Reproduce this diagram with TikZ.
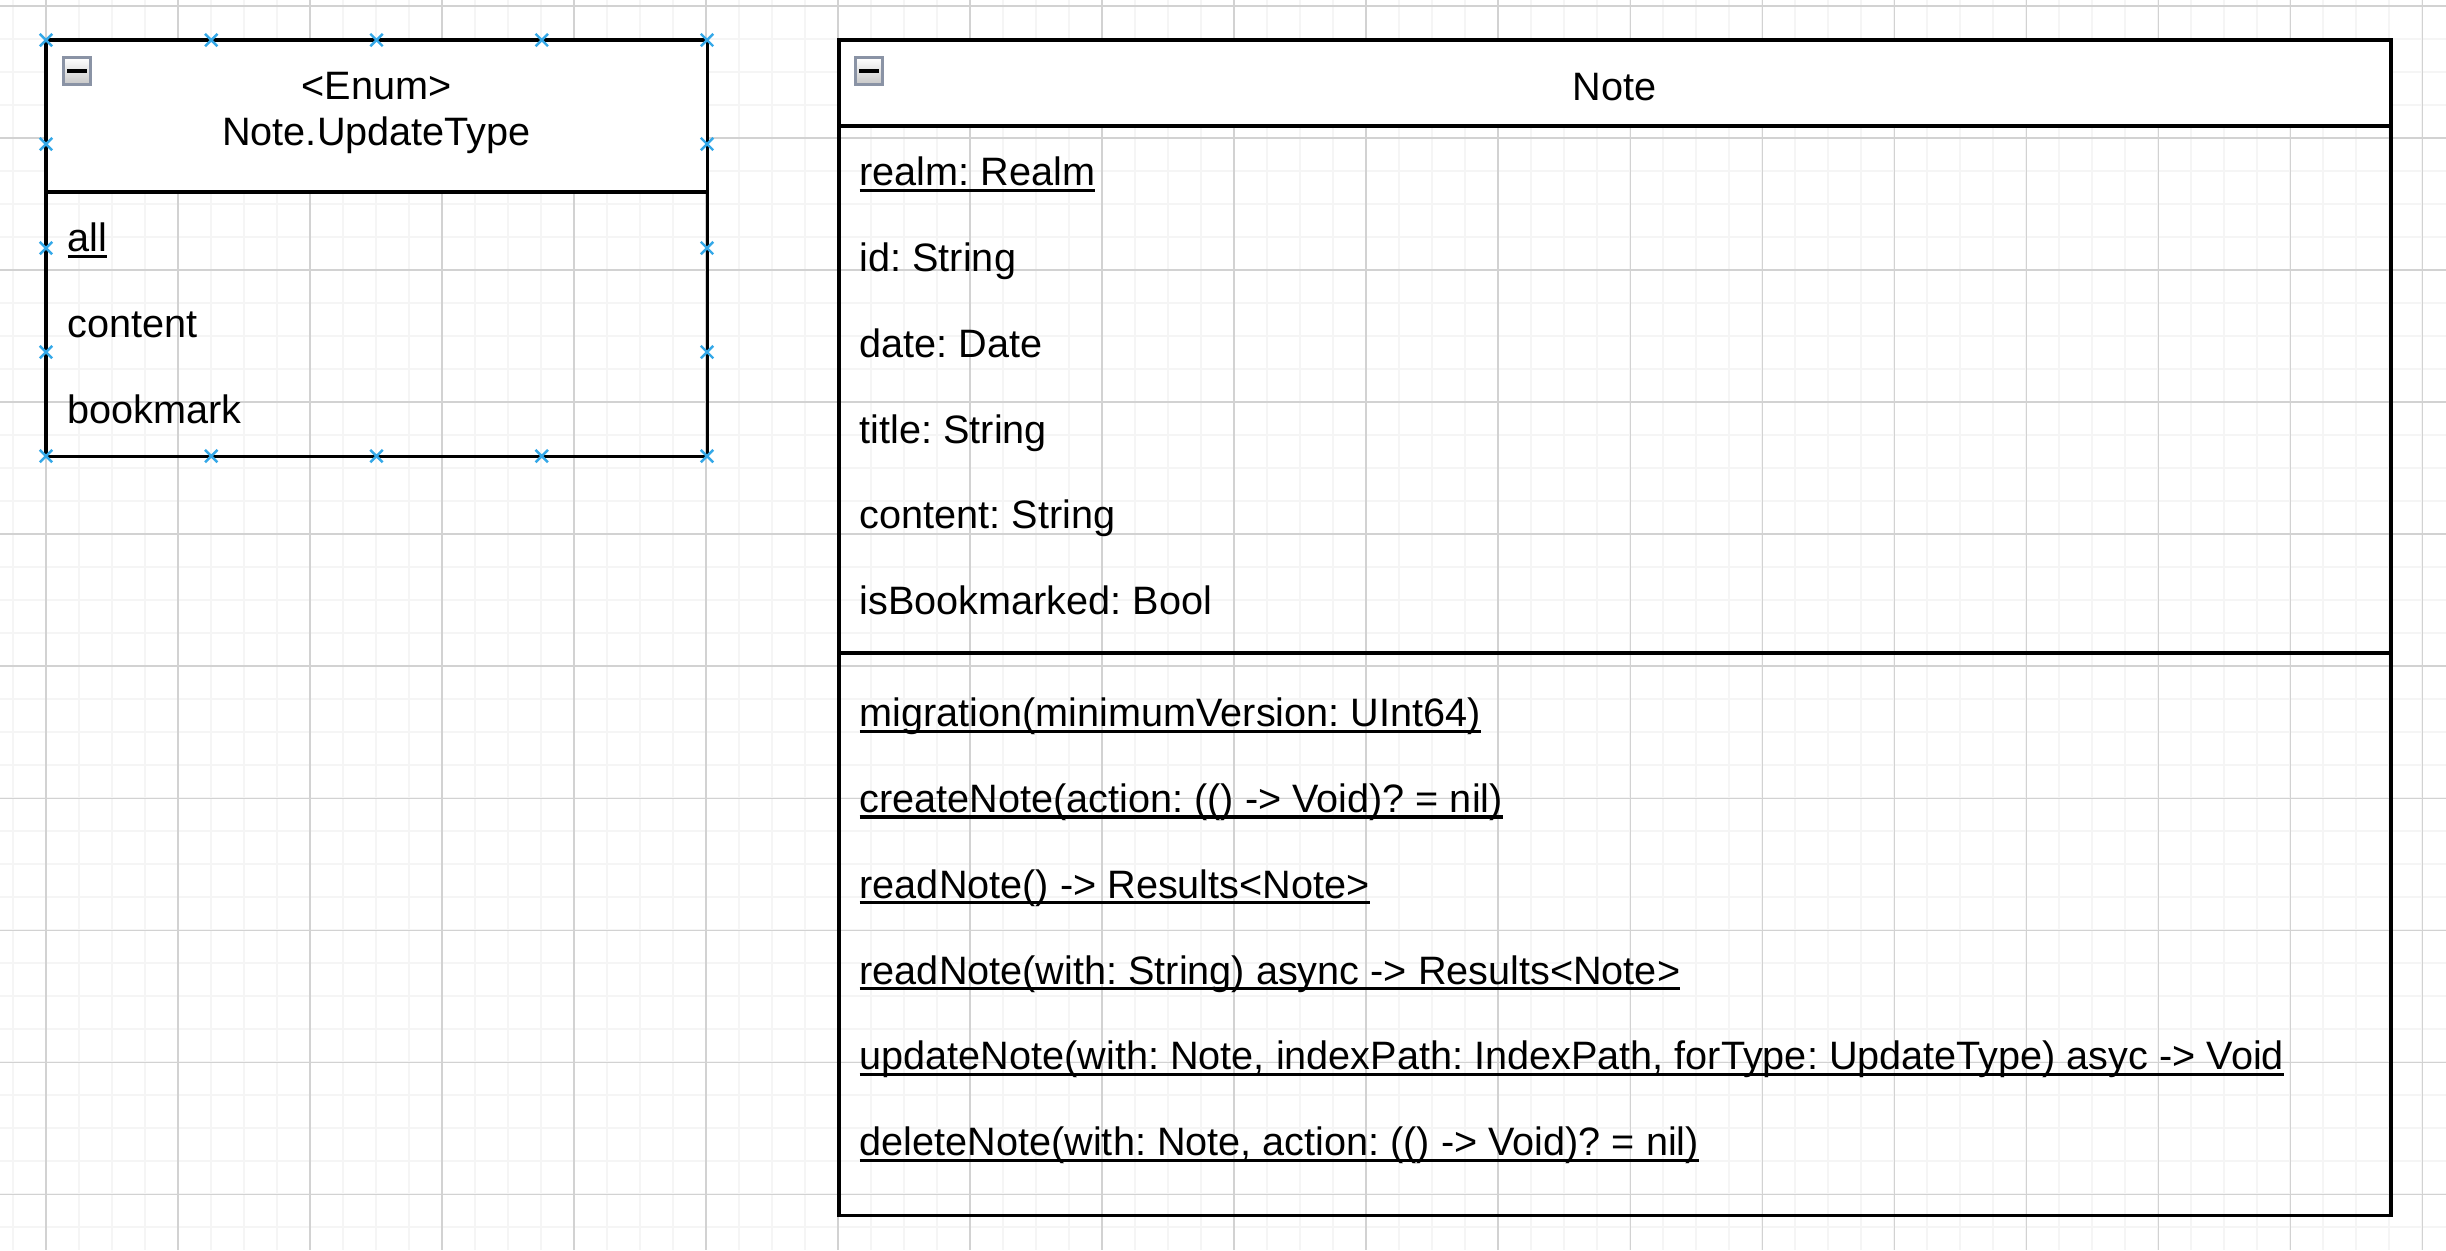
\documentclass[tikz,border=0pt]{standalone}
\usepackage{fontspec}
\setmainfont{Liberation Sans}
\usetikzlibrary{shapes.misc,positioning}

\definecolor{gridminor}{RGB}{245,245,245}
\definecolor{gridmajor}{RGB}{210,210,210}
\definecolor{hoverblue}{RGB}{52,168,232}
\definecolor{iconborder}{RGB}{138,147,165}

% underline for static members
\newcommand{\staticmember}[1]{\setbox0\hbox{#1}\rlap{\rule[-1.75pt]{\wd0}{0.95pt}}\box0}

\begin{document}
\frenchspacing
\begin{tikzpicture}[
      x=0.01cm, y=-0.01cm,
      every node/.style={font=\fontsize{11.27}{13.5}\selectfont},
      minorline/.style={draw=gridminor, line width=0.4pt},
      majorline/.style={draw=gridmajor, line width=0.3pt},
      classbox/.style={rectangle, draw=black, line width=1pt, inner sep=0pt, outer sep=0pt, anchor=north west},
      headbox/.style={classbox, fill=white},
      divider/.style={draw=black, line width=1pt},
      title/.style={anchor=base, inner sep=0pt},
      member/.style={anchor=base west, inner sep=0pt},
      collapse/.style={rectangle, draw=iconborder, line width=0.75pt, top color=white, bottom color=black!22, minimum size=0.27cm, inner sep=0pt},
      minusbar/.style={draw=black, line width=0.9pt},
      conpt/.style={cross out, draw=hoverblue, line width=0.7pt, minimum size=0.1cm, inner sep=0pt}
    ]
    \useasboundingbox (0,0) rectangle (2446,1250);
    \fill[white] (0,0) rectangle (2446,1250);
    % Grid
    \foreach \gx in {13,46,...,2446} \draw[minorline] (\gx,0) -- (\gx,1250);
    \foreach \gy in {6,39,...,1250} \draw[minorline] (0,\gy) -- (2446,\gy);
    \foreach \gx in {46,178,...,2446} \draw[majorline] (\gx,0) -- (\gx,1250);
    \foreach \gy in {6,138,...,1250} \draw[majorline] (0,\gy) -- (2446,\gy);
    % Boxes
    \node[classbox, minimum width=6.61cm, minimum height=4.16cm] (enum) at (46,40) {};
    \node[headbox, minimum width=6.61cm, minimum height=1.52cm] (enumhead) at (46,40) {};
    \node[classbox, minimum width=15.51cm, minimum height=11.75cm] (note) at (839,40) {};
    \node[headbox, minimum width=15.51cm, minimum height=0.86cm] (notehead) at (839,40) {};
    \draw[divider] (note.west |- 0,653) -- (note.east |- 0,653);
    % Collapse icons
    \node[collapse] (enumtoggle) at (77,71) {};
    \draw[minusbar] ([xshift=0.05cm]enumtoggle.west) -- ([xshift=-0.05cm]enumtoggle.east);
    \node[collapse] (notetoggle) at (869,71) {};
    \draw[minusbar] ([xshift=0.05cm]notetoggle.west) -- ([xshift=-0.05cm]notetoggle.east);
    % Enum
    \node[title] (enumstereo) at (376.5,99) {<Enum>};
    \node[title] (enumname) at (376.5,145.7) {Note.UpdateType};
    \node[member] (caseall) at (67,251.7) {\staticmember{all}};
    \node[member] (casecontent) at (67,337.5) {content};
    \node[member] (casebookmark) at (67,423.3) {bookmark};
    % Note
    \node[title] (notename) at (1614.5,100) {Note};
    \node[member] (attrrealm) at (859,185.7) {\staticmember{realm: Realm}};
    \node[member] (attrid) at (859,271.5) {id: String};
    \node[member] (attrdate) at (859,357.3) {date: Date};
    \node[member] (attrtitle) at (859,443.1) {title: String};
    \node[member] (attrcontent) at (859,528.9) {content: String};
    \node[member] (attrbookmark) at (859,614.7) {isBookmarked: Bool};
    \node[member] (opmigration) at (859,726.7) {\staticmember{migration(minimumVersion: UInt64)}};
    \node[member] (opcreate) at (859,812.5) {\staticmember{createNote(action: (() -> Void)? = nil)}};
    \node[member] (opread) at (859,898.3) {\staticmember{readNote() -> Results<Note>}};
    \node[member] (opreadwith) at (859,984.1) {\staticmember{readNote(with: String) async -> Results<Note>}};
    \node[member] (opupdate) at (859,1069.9) {\staticmember{updateNote(with: Note, indexPath: IndexPath, forType: UpdateType) asyc -> Void}};
    \node[member] (opdelete) at (859,1155.7) {\staticmember{deleteNote(with: Note, action: (() -> Void)? = nil)}};
    % Connection points
    \foreach \mx [count=\i] in {46,211.25,376.5,541.75,707} {
      \node[conpt] (ptop\i) at (\mx,40) {};
      \node[conpt] (pbot\i) at (\mx,456) {};
    }
    \foreach \my [count=\i] in {144,248,352} {
      \node[conpt] (pleft\i) at (46,\my) {};
      \node[conpt] (pright\i) at (707,\my) {};
    }
  \end{tikzpicture}
\end{document}
